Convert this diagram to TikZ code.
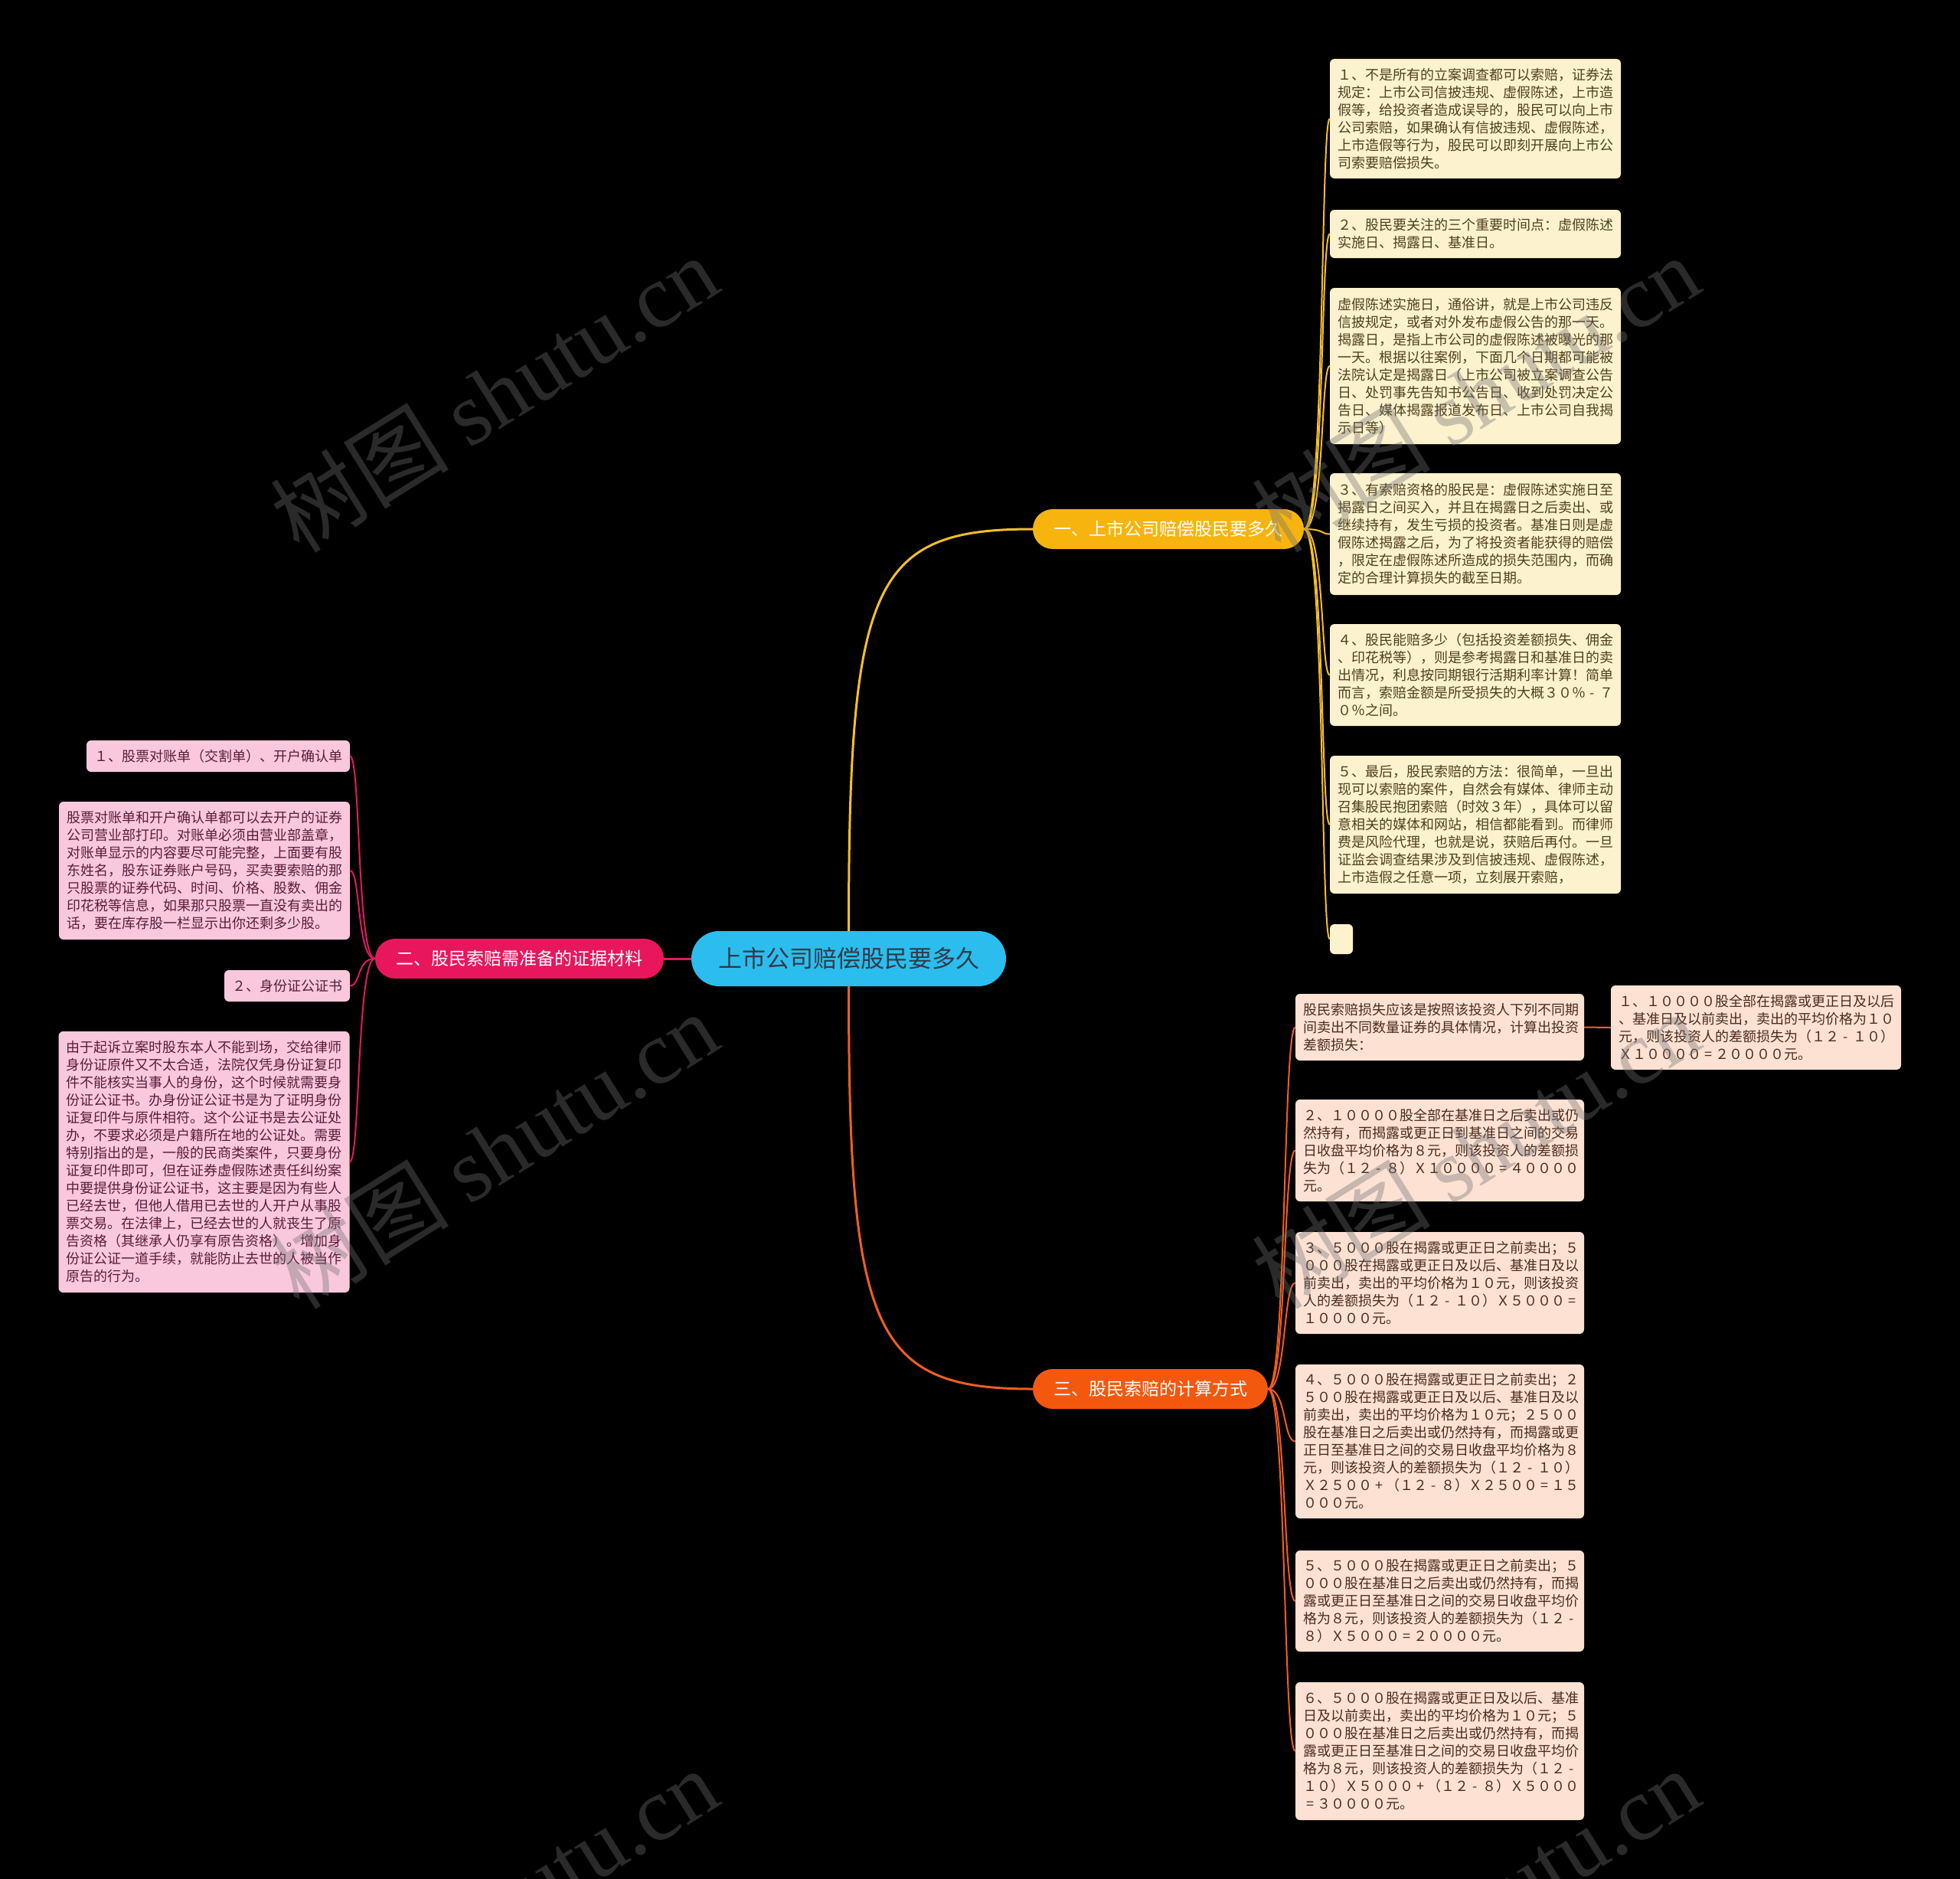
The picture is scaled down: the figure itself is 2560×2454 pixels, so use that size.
\documentclass[tikz,border=0pt]{standalone}
\usepackage{fontspec}
\setmainfont{Noto Sans CJK SC}
\newfontfamily\wmlatin{Liberation Serif}
\newcommand\fwm{\makebox[1em]{-}}
\newcommand\fwe{\makebox[1em]{=}}
\newcommand\fwp{\makebox[1em]{+}}
\definecolor{cyanc}{HTML}{2BBDEE}
\definecolor{centtext}{HTML}{2E3A48}
\definecolor{ybr}{HTML}{F8B40E}
\definecolor{pbr}{HTML}{E8175D}
\definecolor{obr}{HTML}{F4580E}
\definecolor{yline}{HTML}{F5BE2A}
\definecolor{pline}{HTML}{E01A62}
\definecolor{oline}{HTML}{EF5E22}
\definecolor{yfill}{HTML}{FDF2CE}
\definecolor{ytext}{HTML}{4F401C}
\definecolor{ofill}{HTML}{FDE2D4}
\definecolor{otext}{HTML}{4A2B1C}
\definecolor{pfill}{HTML}{FAC8DD}
\definecolor{ptext}{HTML}{5A1C3A}
\definecolor{wmc}{HTML}{717171}
\begin{document}
\begin{tikzpicture}[x=1pt,y=-1pt,
  leafbase/.style={rounded corners=6pt, inner xsep=10pt, inner ysep=0pt,
    font=\fontsize{18}{23}\selectfont},
  leafy/.style={leafbase, fill=yfill, text=ytext, align=left, text width=360pt},
  leafo/.style={leafbase, fill=ofill, text=otext, align=left, text width=357pt},
  leafp/.style={leafbase, fill=pfill, text=ptext, align=left, text width=360pt},
  leafpr/.style={leafbase, fill=pfill, text=ptext, align=right},
  branch/.style={rounded corners=26pt, minimum height=52pt, text=white,
    font=\fontsize{23}{28}\selectfont, inner xsep=0pt},
  mainline/.style={line width=3pt},
  subline/.style={line width=2pt},
  wm/.style={rotate=32, text=wmc, opacity=0.38, font=\fontsize{117}{130}\selectfont}
]
\useasboundingbox (0,0) rectangle (2560,2454);
\fill[black] (0,0) rectangle (2560,2454);

% central
\node[fill=cyanc, rounded corners=36pt, minimum width=411pt, minimum height=72pt,
  text=centtext, font=\fontsize{31}{36}\selectfont, inner xsep=0pt] (c) at (1108.5,1252) {上市公司赔偿股民要多久};

% branches
\node[branch, fill=ybr, minimum width=354pt] (b1) at (1526,691) {一、上市公司赔偿股民要多久};
\node[branch, fill=pbr, minimum width=377pt] (b2) at (678.5,1252) {二、股民索赔需准备的证据材料};
\node[branch, fill=obr, minimum width=307pt] (b3) at (1502.5,1814) {三、股民索赔的计算方式};

% branch 1 leaves
\node[leafy, minimum height=156pt] (a1) at (1927,155) {１、不是所有的立案调查都可以索赔，证券法\\规定：上市公司信披违规、虚假陈述，上市造\\假等，给投资者造成误导的，股民可以向上市\\公司索赔，如果确认有信披违规、虚假陈述，\\上市造假等行为，股民可以即刻开展向上市公\\司索要赔偿损失。};
\node[leafy, minimum height=63pt] (a2) at (1927,305.5) {２、股民要关注的三个重要时间点：虚假陈述\\实施日、揭露日、基准日。};
\node[leafy, minimum height=204pt] (a3) at (1927,478) {虚假陈述实施日，通俗讲，就是上市公司违反\\信披规定，或者对外发布虚假公告的那一天。\\揭露日，是指上市公司的虚假陈述被曝光的那\\一天。根据以往案例，下面几个日期都可能被\\法院认定是揭露日（上市公司被立案调查公告\\日、处罚事先告知书公告日、收到处罚决定公\\告日、媒体揭露报道发布日、上市公司自我揭\\示日等）};
\node[leafy, minimum height=159pt] (a4) at (1927,697.5) {３、有索赔资格的股民是：虚假陈述实施日至\\揭露日之间买入，并且在揭露日之后卖出、或\\继续持有，发生亏损的投资者。基准日则是虚\\假陈述揭露之后，为了将投资者能获得的赔偿\\，限定在虚假陈述所造成的损失范围内，而确\\定的合理计算损失的截至日期。};
\node[leafy, minimum height=133pt] (a5) at (1927,881.5) {４、股民能赔多少（包括投资差额损失、佣金\\、印花税等），则是参考揭露日和基准日的卖\\出情况，利息按同期银行活期利率计算！简单\\而言，索赔金额是所受损失的大概３０％\fwm７\\０％之间。};
\node[leafy, minimum height=180pt] (a6) at (1927,1077) {５、最后，股民索赔的方法：很简单，一旦出\\现可以索赔的案件，自然会有媒体、律师主动\\召集股民抱团索赔（时效３年），具体可以留\\意相关的媒体和网站，相信都能看到。而律师\\费是风险代理，也就是说，获赔后再付。一旦\\证监会调查结果涉及到信披违规、虚假陈述，\\上市造假之任意一项，立刻展开索赔，};
\node[rounded corners=6pt, fill=yfill, minimum width=30pt, minimum height=39pt, inner sep=0pt] (a7) at (1752,1226.5) {};

% branch 3 leaves
\node[leafo, minimum height=87pt] (o0) at (1880.5,1341.5) {股民索赔损失应该是按照该投资人下列不同期\\间卖出不同数量证券的具体情况，计算出投资\\差额损失：};
\node[leafo, text width=359pt, minimum height=110pt] (o01) at (2293.5,1342) {１、１００００股全部在揭露或更正日及以后\\、基准日及以前卖出，卖出的平均价格为１０\\元，则该投资人的差额损失为（１２\fwm １０）\\Ｘ１００００\fwe ２００００元。};
\node[leafo, minimum height=133pt] (o1) at (1880.5,1502.5) {２、１００００股全部在基准日之后卖出或仍\\然持有，而揭露或更正日到基准日之间的交易\\日收盘平均价格为８元，则该投资人的差额损\\失为（１２\fwm ８）Ｘ１００００\fwe ４００００\\元。};
\node[leafo, minimum height=133pt] (o2) at (1880.5,1675.5) {３、５０００股在揭露或更正日之前卖出；５\\０００股在揭露或更正日及以后、基准日及以\\前卖出，卖出的平均价格为１０元，则该投资\\人的差额损失为（１２\fwm １０）Ｘ５０００\fwe\\１００００元。};
\node[leafo, minimum height=201pt] (o3) at (1880.5,1882.5) {４、５０００股在揭露或更正日之前卖出；２\\５００股在揭露或更正日及以后、基准日及以\\前卖出，卖出的平均价格为１０元；２５００\\股在基准日之后卖出或仍然持有，而揭露或更\\正日至基准日之间的交易日收盘平均价格为８\\元，则该投资人的差额损失为（１２\fwm １０）\\Ｘ２５００\fwp（１２\fwm ８）Ｘ２５００\fwe １５\\０００元。};
\node[leafo, minimum height=132pt] (o4) at (1880.5,2091) {５、５０００股在揭露或更正日之前卖出；５\\０００股在基准日之后卖出或仍然持有，而揭\\露或更正日至基准日之间的交易日收盘平均价\\格为８元，则该投资人的差额损失为（１２\fwm\\８）Ｘ５０００\fwe ２００００元。};
\node[leafo, minimum height=180pt] (o5) at (1880.5,2287) {６、５０００股在揭露或更正日及以后、基准\\日及以前卖出，卖出的平均价格为１０元；５\\０００股在基准日之后卖出或仍然持有，而揭\\露或更正日至基准日之间的交易日收盘平均价\\格为８元，则该投资人的差额损失为（１２\fwm\\１０）Ｘ５０００\fwp（１２\fwm ８）Ｘ５０００\\\fwe ３００００元。};

% branch 2 leaves
\node[leafpr, minimum height=41pt, minimum width=344pt] (p1) at (285,987.5) {１、股票对账单（交割单）、开户确认单};
\node[leafp, minimum height=180pt] (p2) at (267,1137) {股票对账单和开户确认单都可以去开户的证券\\公司营业部打印。对账单必须由营业部盖章，\\对账单显示的内容要尽可能完整，上面要有股\\东姓名，股东证券账户号码，买卖要索赔的那\\只股票的证券代码、时间、价格、股数、佣金\\印花税等信息，如果那只股票一直没有卖出的\\话，要在库存股一栏显示出你还剩多少股。};
\node[leafpr, minimum height=41pt, minimum width=162pt] (p3) at (375,1287.5) {２、身份证公证书};
\node[leafp, minimum height=341pt] (p4) at (266.5,1517.5) {由于起诉立案时股东本人不能到场，交给律师\\身份证原件又不太合适，法院仅凭身份证复印\\件不能核实当事人的身份，这个时候就需要身\\份证公证书。办身份证公证书是为了证明身份\\证复印件与原件相符。这个公证书是去公证处\\办，不要求必须是户籍所在地的公证处。需要\\特别指出的是，一般的民商类案件，只要身份\\证复印件即可，但在证券虚假陈述责任纠纷案\\中要提供身份证公证书，这主要是因为有些人\\已经去世，但他人借用已去世的人开户从事股\\票交易。在法律上，已经去世的人就丧生了原\\告资格（其继承人仍享有原告资格）。增加身\\份证公证一道手续，就能防止去世的人被当作\\原告的行为。};

% main connectors
\draw[mainline, yline] (c.north) .. controls +(0,-456) and +(-209,0) .. (b1.west);
\draw[mainline, oline] (c.south) .. controls +(0,452) and +(-209,0) .. (b3.west);
\draw[mainline, pline] (c.west) -- (b2.east);

% branch 1 leaf connectors
\foreach \n in {a1,a2,a3,a4,a5,a6,a7}
  \draw[subline, yline] (b1.east) .. controls +(27,0) and +(-12,0) .. (\n.west);
% branch 3 leaf connectors
\foreach \n in {o0,o1,o2,o3,o4,o5}
  \draw[subline, oline] (b3.east) .. controls +(24,0) and +(-16,0) .. (\n.west);
\draw[subline, oline] (o0.east) -- (o01.west);
% branch 2 leaf connectors
\foreach \n in {p1,p2,p3,p4}
  \draw[subline, pline] (b2.west) .. controls +(-24,0) and +(14,0) .. (\n.east);

% watermarks
\foreach \p in {(645,514),(1927,514),(645,1502),(1927,1502),(645,2490),(1927,2490)}
  \node[wm] at \p {树图 {\wmlatin shutu.cn}};
\end{tikzpicture}
\end{document}
